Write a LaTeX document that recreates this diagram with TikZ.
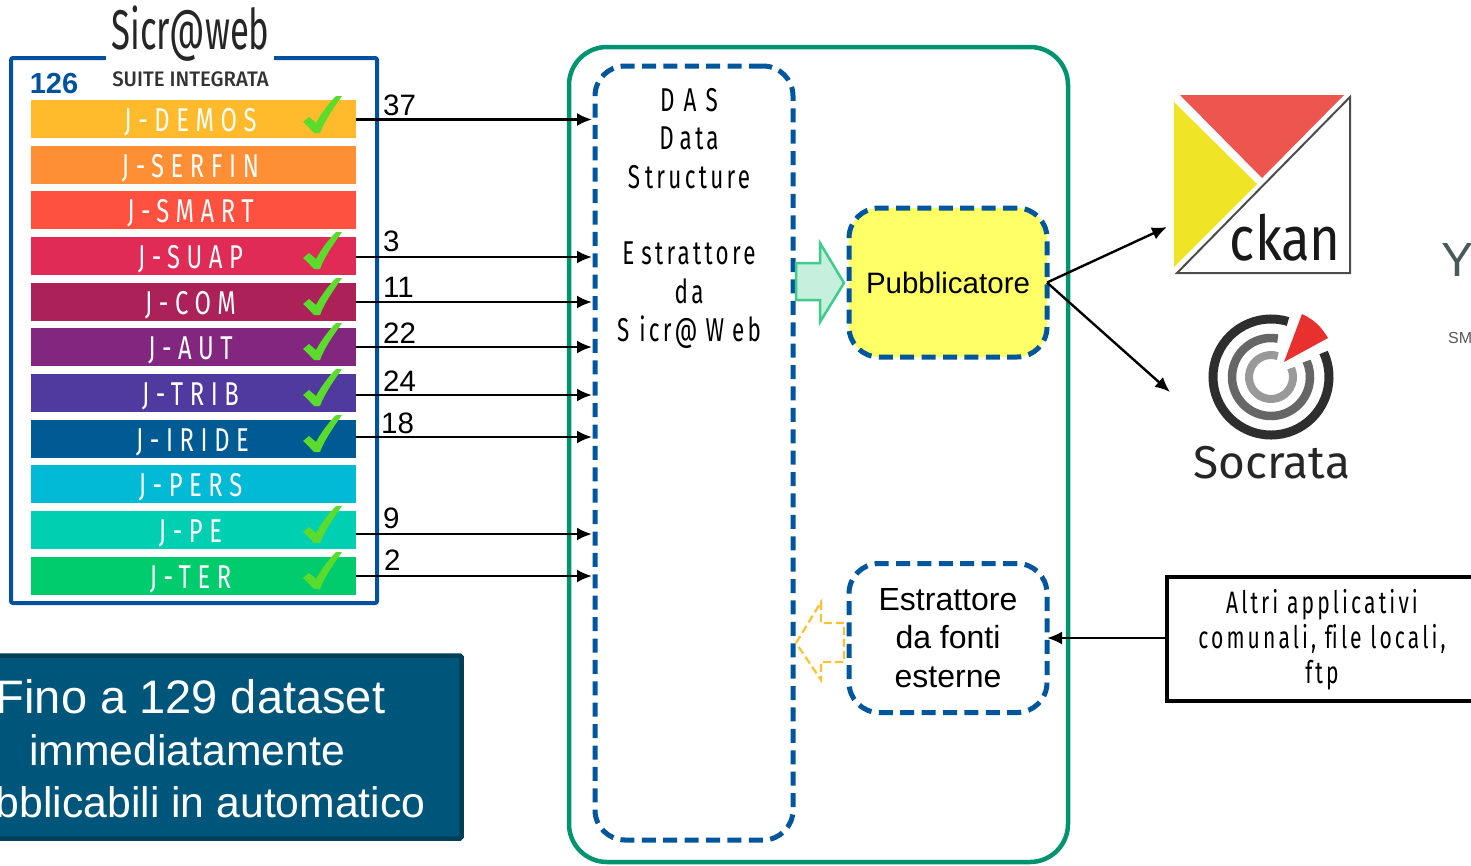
\documentclass[tikz,border=0pt]{standalone}
\usepackage{fontspec}
\setmainfont{Liberation Sans}
\newfontfamily\barfont[FakeStretch=0.72,LetterSpace=20]{Fira Sans}
\newfontfamily\dasfont[FakeStretch=0.68,LetterSpace=10]{Fira Sans}
\newfontfamily\logofont[FakeStretch=0.62]{Fira Sans}
\newfontfamily\suitefont[FakeStretch=0.97]{Fira Sans Medium}
\newfontfamily\ckanfont[FakeStretch=0.85]{Fira Sans}
\newfontfamily\socfont{Fira Sans}
\definecolor{blu}{HTML}{00529F}
\definecolor{dkblu}{HTML}{00569C}
\definecolor{gcont}{HTML}{00936F}
\definecolor{tealbox}{HTML}{00567A}
\definecolor{tealedge}{HTML}{003F58}
\definecolor{chk}{HTML}{5BDC2C}
\usetikzlibrary{arrows.meta}
\tikzset{
  x=1pt,y=-1pt,
  barbox/.style={minimum width=325pt,minimum height=38pt,inner sep=0pt,outer sep=0pt,text=white,text height=25pt,text depth=0pt,font=\barfont\fontsize{33}{36}\selectfont},
  conn/.style={draw=black,line width=2.4pt,-{Latex[length=15pt,width=13pt]}},
  dashblue/.style={draw=dkblu,line width=5pt,dash pattern=on 14pt off 7.4pt,rounded corners=30pt,inner sep=0pt,outer sep=0pt},
  num/.style={font=\fontsize{29.5}{32}\selectfont,inner sep=0pt},
  notetxt/.style={inner sep=0pt,anchor=base,text=white},
  chkmark/.pic={\fill[chk] (-19,2) -- (-13,-3) -- (-6,3) .. controls (0,-8) and (8,-18) .. (14,-24) -- (20,-24) .. controls (10,-10) and (2,2) .. (-2,13) -- (-8,13) .. controls (-12,9) and (-15,5) .. (-19,2) -- cycle;}
}
\begin{document}
\begin{tikzpicture}
\useasboundingbox (0,0) rectangle (1471,865);
\clip (0,0) rectangle (1471,865);
% suite frame
\node[draw=blu,line width=4pt,minimum width=366pt,minimum height=545pt,inner sep=0pt,outer sep=0pt,rounded corners=2pt] (frame) at (194,330.5) {};
\fill[white] (106,50) rectangle (274,68);
\node[inner sep=0pt,text=black!85,font=\logofont\fontsize{56}{60}\selectfont] (logo) at (190.5,34) {Sicr@web};
\node[inner sep=0pt,text=black!80,font=\suitefont\fontsize{21}{24}\selectfont] (suite) at (190.5,79) {SUITE INTEGRATA};
\node[inner sep=0pt,text=blu,font=\bfseries\fontsize{29}{32}\selectfont] (n126) at (54,84) {126};
% bars
\node[barbox,fill={rgb,255:red,255;green,187;blue,43}] (b1) at (193.5,119) {\kern-6pt J-DEMOS};
\node[barbox,fill={rgb,255:red,255;green,143;blue,53}] (b2) at (193.5,165) {\kern-6pt J-SERFIN};
\node[barbox,fill={rgb,255:red,255;green,80;blue,64}] (b3) at (193.5,210) {\kern-6pt J-SMART};
\node[barbox,fill={rgb,255:red,223;green,43;blue,85}] (b4) at (193.5,256) {\kern-6pt J-SUAP};
\node[barbox,fill={rgb,255:red,171;green,33;blue,88}] (b5) at (193.5,302) {\kern-6pt J-COM};
\node[barbox,fill={rgb,255:red,131;green,38;blue,127}] (b6) at (193.5,347) {\kern-6pt J-AUT};
\node[barbox,fill={rgb,255:red,80;green,58;blue,160}] (b7) at (193.5,393) {\kern-6pt J-TRIB};
\node[barbox,fill={rgb,255:red,0;green,90;blue,148}] (b8) at (193.5,439) {\kern-2pt J-IRIDE};
\node[barbox,fill={rgb,255:red,0;green,186;blue,214}] (b9) at (193.5,484) {\kern-6pt J-PERS};
\node[barbox,fill={rgb,255:red,0;green,207;blue,178}] (b10) at (193.5,530) {\kern-6pt J-PE};
\node[barbox,fill={rgb,255:red,0;green,204;blue,110}] (b11) at (193.5,576) {\kern-6pt J-TER};
\foreach \yy in {120,256,302,347,393,439,530,576}{\pic at (322,\yy) {chkmark};}
% container
\node[draw=gcont,line width=4.5pt,rounded corners=38pt,minimum width=499pt,minimum height=815pt,inner sep=0pt,outer sep=0pt] (cont) at (818.5,454.5) {};
\node[dashblue,minimum width=198pt,minimum height=774pt] (das) at (694,453) {};
\node[inner sep=0pt,align=center,font=\dasfont\fontsize{33}{38.4}\selectfont] (dastext) at (689,218.5) {D\kern9pt A\kern9pt S\\D\kern6pt ata\\S\kern5pt tructure\\[38.4pt]E\kern7pt strattore\\da\\S\kern10pt icr@\kern8pt W\kern8pt eb};
\node[dashblue,fill={rgb,255:red,255;green,255;blue,102},minimum width=198pt,minimum height=149pt,font=\fontsize{29.5}{34}\selectfont] (pub) at (948,282.5) {\raisebox{-1pt}{Pubblicatore}};
\node[dashblue,minimum width=198pt,minimum height=149pt,align=center,font=\fontsize{32}{38.6}\selectfont] (est) at (948,638) {Estrattore\\da fonti\\esterne};
% block arrows
\draw[draw={rgb,255:red,61;green,203;blue,142},fill={rgb,255:red,198;green,240;blue,221},line width=2.5pt] (796,263) -- (820,263) -- (820,243) -- (844,283) -- (820,322) -- (820,300) -- (796,300) -- cycle;
\draw[draw={rgb,255:red,255;green,192;blue,51},line width=2.2pt,dash pattern=on 8pt off 4pt] (796,643) -- (821,602) -- (821,623) -- (844,623) -- (844,662) -- (821,662) -- (821,680) -- cycle;
% connectors
\foreach \bb/\yy in {b1/119.5,b4/257,b5/302,b6/347,b7/395,b8/437,b10/534,b11/576}{
  \draw[conn,shorten >=3pt] (\bb.east |- 0,\yy) -- (das.west |- 0,\yy);
}
\node[num,anchor=west] (l1) at (383,105) {37};
\node[num,anchor=west] (l2) at (383,241) {3};
\node[num,anchor=west] (l3) at (383,287) {11};
\node[num,anchor=west] (l4) at (383,333) {22};
\node[num,anchor=west] (l5) at (383,381) {24};
\node[num,anchor=west] (l6) at (381,423) {18};
\node[num,anchor=west] (l7) at (383,518) {9};
\node[num,anchor=west] (l8) at (384,560) {2};
% teal note
\node[draw=tealedge,fill=tealbox,line width=4.5pt,rounded corners=1.5pt,minimum width=482pt,minimum height=183pt,inner sep=0pt,outer sep=0pt] (note) at (220.5,747) {};
\node[notetxt,font=\fontsize{47}{52}\selectfont] (note1) at (190.5,713) {Fino a 129 dataset};
\node[notetxt,font=\fontsize{42.7}{52}\selectfont] (note2) at (187,765.5) {immediatamente};
\node[notetxt,font=\fontsize{42.7}{52}\selectfont] (note3) at (187,817) {pubblicabili in automatico};
% ckan logo
\node[inner sep=0pt,outer sep=0pt,minimum width=176pt,minimum height=178pt] (ckan) at (1262,185) {};
\draw[draw=black!70,line width=2pt] (1350,97) -- (1350,273) -- (1177,273) -- cycle;
\fill[fill={rgb,255:red,236;green,86;blue,79}] (1180,95) -- (1344,95) -- (1262,178) -- cycle;
\fill[fill={rgb,255:red,239;green,229;blue,38}] (1174,102) -- (1257,184) -- (1174,267) -- cycle;
\node[inner sep=0pt,anchor=base east,text=black!90,font=\ckanfont\fontsize{62}{66}\selectfont] (ckantext) at (1341,260) {ckan};
% socrata logo
\coordinate (soc) at (1271,377);
\draw[draw=black!82,line width=9pt] (soc) ++(73:58pt) arc[start angle=73,end angle=385,radius=58pt];
\draw[draw=black!60,line width=8.5pt] (soc) ++(80:39pt) arc[start angle=80,end angle=384,radius=39pt];
\draw[draw=black!40,line width=8pt] (soc) ++(72:22pt) arc[start angle=72,end angle=384,radius=22pt];
\fill[fill={rgb,255:red,232;green,48;blue,46}] (1284,362) -- (1302,314) .. controls (1315,320) and (1322,328) .. (1328,338) -- cycle;
\node[inner sep=0pt,anchor=base,text=black!85,font=\socfont\fontsize{46}{50}\selectfont] (soctext) at (1272,478) {Socrata};
% cut-off logo
\node[inner sep=0pt,anchor=west,text={rgb,255:red,74;green,90;blue,90},font=\fontsize{48}{50}\selectfont] (ytext) at (1441,260) {Y};
\node[inner sep=0pt,anchor=west,text=black!65,font=\fontsize{16}{18}\selectfont] (smtext) at (1448,338) {SM};
% altri box
\node[draw=black,line width=4pt,minimum width=310pt,minimum height=124pt,inner sep=0pt,outer sep=0pt] (altri) at (1322,639) {};
\node[inner sep=0pt,align=center,font=\dasfont\fontsize{31}{35}\selectfont] (altritext) at (1322,640) {Altri applicativi\\comunali, f\kern0pt ile locali,\\ftp};
% publisher connectors
\coordinate (toCkan) at (1167,227);
\coordinate (toSoc) at (1170,392);
\draw[conn] (pub.east) -- (toCkan);
\draw[conn] (pub.east) -- (toSoc);
\draw[conn] (altri.west |- est.east) -- (est.east);
\end{tikzpicture}
\end{document}
